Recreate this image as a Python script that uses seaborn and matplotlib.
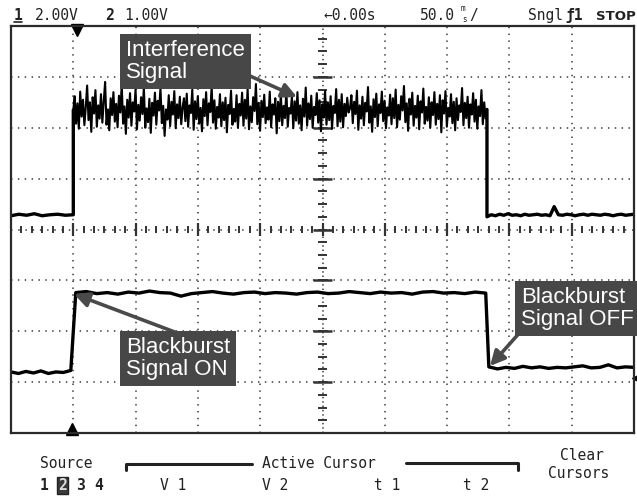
import numpy as np
import pandas as pd
import matplotlib
matplotlib.use("Agg")
import matplotlib.pyplot as plt
import seaborn as sns
from matplotlib.lines import Line2D

sns.set_theme(style="white")
plt.rcParams['font.family'] = ['DejaVu Sans Mono', 'DejaVu Sans']

# ---------------- data (divisions: x 0..10, y -4..4) ----------------
edge_rise = 1.0
edge_fall = 7.64

ch1_left = [0.27, 0.30, 0.28, 0.31, 0.27, 0.29, 0.30, 0.28, 0.29]
ch1_noise = [
    2.35, 2.62, 2.08, 2.48, 1.98, 2.71, 2.22, 2.55, 2.05, 2.40, 2.83, 2.15, 2.50, 1.92, 2.60, 2.28, 2.74, 2.02, 2.44, 2.18,
    2.66, 2.10, 2.52, 2.90, 2.06, 2.36, 1.95, 2.58, 2.25, 2.70, 2.12, 2.47, 2.01, 2.63, 2.30, 2.85, 2.08, 2.42, 1.88, 2.55,
    2.20, 2.68, 2.04, 2.50, 2.32, 2.76, 1.97, 2.45, 2.14, 2.60, 2.27, 2.80, 2.00, 2.38, 2.11, 2.57, 1.90, 2.49, 2.24, 2.69,
    2.06, 2.53, 2.34, 2.78, 2.09, 2.43, 1.84, 2.36, 2.16, 2.64, 2.03, 2.51, 2.26, 2.72, 1.99, 2.46, 2.19, 2.61, 2.07, 2.40,
    2.58, 2.13, 2.67, 2.02, 2.44, 2.29, 2.75, 1.96, 2.52, 2.17, 2.62, 2.08, 2.39, 1.93, 2.56, 2.23, 2.70, 2.05, 2.48, 2.31,
    2.81, 2.10, 2.54, 1.98, 2.41, 2.20, 2.66, 2.03, 2.50, 2.15, 2.59, 1.91, 2.45, 2.27, 2.73, 2.06, 2.37, 2.12, 2.64, 2.00,
    2.47, 2.24, 2.69, 2.04, 2.55, 2.18, 2.77, 1.97, 2.42, 2.11, 2.60, 2.33, 2.86, 2.07, 2.49, 1.94, 2.53, 2.21, 2.65, 2.09,
    2.40, 2.16, 2.71, 2.01, 2.46, 2.26, 2.58, 1.89, 2.51, 2.13, 2.67, 2.05, 2.43, 2.19, 2.74, 2.02, 2.39, 2.28, 2.61, 1.99,
    2.52, 2.14, 2.70, 2.08, 2.44, 1.95, 2.57, 2.22, 2.79, 2.04, 2.48, 2.17, 2.63, 2.00, 2.41, 2.25, 2.68, 2.10, 2.54, 1.93,
    2.46, 2.20, 2.72, 2.06, 2.50, 2.15, 2.62, 1.98, 2.43, 2.29, 2.76, 2.03, 2.55, 2.12, 2.66, 2.01, 2.47, 2.23, 2.59, 2.30,
    2.38, 2.64, 2.09, 2.51, 2.27, 2.73, 1.96, 2.44, 2.18, 2.61, 2.05, 2.49, 2.32, 2.80, 2.10, 2.42, 1.92, 2.56, 2.21, 2.67,
    2.03, 2.46, 2.29, 2.71, 2.13, 2.53, 1.99, 2.40, 2.24, 2.65, 2.07, 2.58, 2.19, 2.75, 2.01, 2.45, 2.16, 2.62, 2.34, 2.82,
    2.11, 2.48, 1.94, 2.57, 2.26, 2.69, 2.04, 2.43, 2.20, 2.63, 1.97, 2.52, 2.30, 2.77, 2.08, 2.41, 2.14, 2.60, 2.00, 2.50,
    2.25, 2.70, 2.06, 2.47, 2.17, 2.64, 1.91, 2.54, 2.28, 2.72, 2.02, 2.39, 2.22, 2.66, 2.09, 2.51, 1.95, 2.58, 2.15, 2.44,
    2.31, 2.78, 2.05, 2.49, 2.19, 2.61, 2.00, 2.46, 2.26, 2.68, 2.12, 2.55, 1.98, 2.42, 2.23, 2.74, 2.07, 2.50, 2.18, 2.36,
]
ch1_right = [0.25, 0.29, 0.27, 0.30, 0.28, 0.31, 0.28, 0.29, 0.27, 0.30, 0.28, 0.29,
             0.30, 0.28, 0.29, 0.27, 0.45, 0.29, 0.28, 0.30, 0.29, 0.27, 0.29, 0.30,
             0.28, 0.30, 0.29, 0.28, 0.30, 0.29, 0.27, 0.29, 0.30, 0.28, 0.29, 0.30]

ch2_left = [-2.80, -2.83, -2.79, -2.82, -2.78, -2.83, -2.80, -2.81, -2.77]
ch2_high = [-1.24, -1.22, -1.26, -1.24, -1.27, -1.23, -1.25, -1.21, -1.24, -1.25,
            -1.31, -1.26, -1.24, -1.22, -1.25, -1.27, -1.24, -1.23, -1.26, -1.24,
            -1.25, -1.27, -1.24, -1.23, -1.26, -1.25, -1.22, -1.24, -1.26, -1.23,
            -1.25, -1.24, -1.27, -1.23, -1.22, -1.25, -1.24, -1.26, -1.23, -1.25]
ch2_right = [-2.70, -2.74, -2.71, -2.73, -2.69, -2.72, -2.70, -2.73, -2.71,
             -2.72, -2.70, -2.68, -2.72, -2.71, -2.66, -2.72, -2.70, -2.71]

# ---------------- figure ----------------
W, H = 637, 496
fig = plt.figure(figsize=(W / 100, H / 100), dpi=100)
fig.patch.set_facecolor("white")
L, R, T, B = 11, 634, 26, 433
ax = fig.add_axes([L / W, 1 - B / H, (R - L) / W, (B - T) / H])
ax.set_facecolor("white")
ax.set_xlim(0, 10)
ax.set_ylim(-4, 4)
ax.set_xticks([])
ax.set_yticks([])
for s in ax.spines.values():
    s.set_color("#2a2a2a")
    s.set_linewidth(1.6)

def px2d(x, y):
    return ((x - L) / (R - L) * 10, 4 - (y - T) / (B - T) * 8)

# graticule
gc = "#555555"
for gx in range(1, 10):
    if gx != 5:
        ax.axvline(gx, color=gc, lw=1.3, ls=(0, (0.8, 3.0)), zorder=1)
for gy in range(-3, 4):
    if gy != 0:
        ax.axhline(gy, color=gc, lw=1.3, ls=(0, (0.8, 3.0)), zorder=1)
ax.axvline(5, color=gc, lw=1.3, ls=(0, (0.8, 1.6)), zorder=1)
ax.axhline(0, color=gc, lw=1.3, ls=(0, (0.8, 3.2)), zorder=1)
hx = np.arange(0, 10.001, 1 / 6)
ax.vlines(hx, -0.06, 0.06, color="#333", lw=1.4, zorder=1)
ax.vlines(np.arange(1, 10), -0.12, 0.12, color="#333", lw=1.6, zorder=1)
vy = np.arange(-4, 4.001, 0.25)
ax.hlines(vy, 4.93, 5.07, color="#333", lw=1.4, zorder=1)
ax.hlines(np.arange(-3, 4), 4.85, 5.15, color="#333", lw=1.8, zorder=1)

# traces
t_l1 = np.linspace(0, edge_rise, len(ch1_left))
t_n1 = np.linspace(edge_rise, edge_fall, len(ch1_noise))
t_r1 = np.linspace(edge_fall, 10, len(ch1_right))
kw = dict(sort=False, estimator=None, color="black", ax=ax, legend=False)
sns.lineplot(x=list(t_l1) + [edge_rise], y=ch1_left + [ch1_noise[0]], lw=2.4, **kw)
sns.lineplot(x=t_n1, y=ch1_noise, lw=1.5, **kw)
sns.lineplot(x=[edge_fall] + list(t_r1), y=[ch1_noise[-1]] + ch1_right, lw=2.4, **kw)

t_l2 = np.linspace(0, 0.96, len(ch2_left))
t_h2 = np.linspace(1.04, 7.62, len(ch2_high))
t_r2 = np.linspace(7.67, 10, len(ch2_right))
sns.lineplot(x=list(t_l2) + list(t_h2) + list(t_r2), y=ch2_left + ch2_high + ch2_right, lw=2.4, **kw)

# markers
ax.plot([1.06], [3.93], marker="v", color="black", ms=8, clip_on=False)
ax.plot([0.98], [-3.93], marker="^", color="black", ms=8, clip_on=False)
ax.plot([10.04], [-2.92], marker="<", color="black", ms=6, clip_on=False)

# annotations
box = dict(boxstyle="square,pad=0.28", fc="#474747", ec="none")
afont = dict(color="white", fontsize=16, family=["Liberation Sans", "DejaVu Sans"],
             linespacing=1.05, ha="left", va="top", zorder=6, bbox=box)
arr = dict(arrowstyle="-|>", color="#4a4a4a", lw=2.6, mutation_scale=22, shrinkA=0, shrinkB=0)

ax.text(*px2d(126, 40), "Interference\nSignal", **afont)
ax.annotate("", xy=px2d(297, 97), xytext=px2d(250, 76), arrowprops=arr, zorder=5)
ax.text(*px2d(126, 337), "Blackburst\nSignal ON", **afont)
ax.annotate("", xy=px2d(74, 294), xytext=px2d(180, 334), arrowprops=arr, zorder=5)
ax.text(*px2d(521, 287), "Blackburst\nSignal OFF", **afont)
ax.annotate("", xy=px2d(490, 366), xytext=px2d(522, 330), arrowprops=arr, zorder=5)

# top status line
def ft(x, y, s, **k):
    d = dict(fontsize=10.5, color="#222", va="baseline", ha="left")
    d.update(k)
    fig.text(x / W, 1 - y / H, s, **d)

ft(14, 20, "1", fontweight="bold")
fig.add_artist(Line2D([14 / W, 22 / W], [1 - 22 / H, 1 - 22 / H], color="#222", lw=1.2))
ft(35, 20, "2.00V")
ft(105, 20, "2", fontweight="bold")
ft(124, 20, "1.00V")
ft(324, 20, "\u21900.00s")
ft(420, 20, "50.0")
ft(461, 11, "m", fontsize=5.5)
ft(462, 22, "s", fontsize=5.5)
ft(469, 20, "/")
ft(528, 20, "Sngl")
ft(565, 20, "\u01921", fontweight="bold")
ft(596, 20, "STOP", fontweight="bold", family="DejaVu Sans", fontsize=9.5)

# bottom soft-key labels
ft(40, 468, "Source")
ft(40, 490, "1", fontweight="bold")
ft(58, 490, "2", fontweight="bold", color="#dddddd",
   bbox=dict(boxstyle="square,pad=0.1", fc="#3a3a3a", ec="#222", lw=1.0))
ft(76, 490, "3", fontweight="bold")
ft(94, 490, "4", fontweight="bold")
ft(262, 468, "Active Cursor")
for seg in ([(126, 470), (126, 464), (252, 464)], [(406, 463), (518, 463), (518, 470)]):
    xs = [p[0] / W for p in seg]
    ys = [1 - p[1] / H for p in seg]
    fig.add_artist(Line2D(xs, ys, color="#222", lw=2.2))
ft(160, 490, "V 1")
ft(262, 490, "V 2")
ft(374, 490, "t 1")
ft(463, 490, "t 2")
ft(560, 460, "Clear")
ft(548, 478, "Cursors")

fig.savefig("out.png", dpi=100, facecolor=fig.get_facecolor())
